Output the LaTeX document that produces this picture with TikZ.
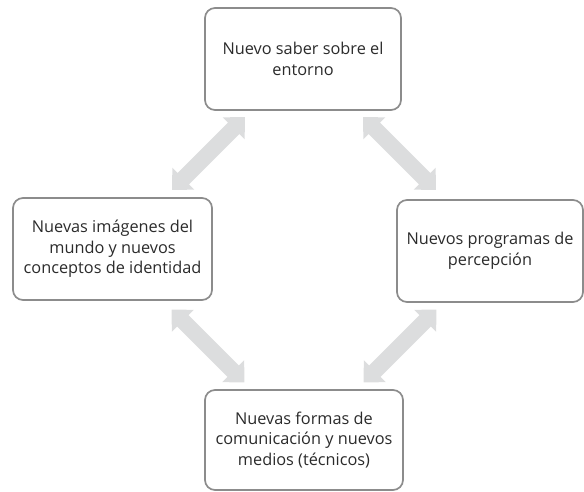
\documentclass[tikz,border=0pt]{standalone}
\usepackage{fontspec}
\setmainfont{Open Sans}
\definecolor{boxline}{HTML}{8C8C8C}
\definecolor{txt}{HTML}{2B2B2B}
\definecolor{arrowgrey}{HTML}{DCDDDE}
\tikzset{
  box/.style={draw=boxline, line width=1.7pt, rounded corners=10pt, fill=white,
    align=center, text=txt, font=\fontsize{16.3}{20.5}\selectfont, inner sep=0pt},
  pics/dblarrow/.style={code={
    \fill[arrowgrey] (-51.6,0) -- (-35.6,15.5) -- (-35.6,8) -- (35.6,8) -- (35.6,15.5)
      -- (51.6,0) -- (35.6,-15.5) -- (35.6,-8) -- (-35.6,-8) -- (-35.6,-15.5) -- cycle;
  }}
}
\begin{document}
\begin{tikzpicture}[x=1pt,y=-1pt]
\useasboundingbox (0,0) rectangle (584,492);
\node[box, minimum width=196pt, minimum height=102pt] (top) at (303,59) {Nuevo saber sobre el\\entorno};
\node[box, minimum width=186pt, minimum height=102pt] (right) at (490,251) {Nuevos programas de\\percepción};
\node[box, minimum width=199pt, minimum height=102pt] (left) at (112.5,249) {Nuevas imágenes del\\mundo y nuevos\\conceptos de identidad};
\node[box, minimum width=198pt, minimum height=100pt] (bottom) at (304,440) {Nuevas formas de\\comunicación y nuevos\\medios (técnicos)};
\coordinate (tl1) at (245,117); \coordinate (tl2) at (172,190);
\coordinate (tr1) at (363,117); \coordinate (tr2) at (436,190);
\coordinate (bl1) at (171,309); \coordinate (bl2) at (245,383);
\coordinate (br1) at (437,309); \coordinate (br2) at (363,383);
\path (tl1) -- pic[pos=0.5, sloped]{dblarrow} (tl2);
\path (tr1) -- pic[pos=0.5, sloped]{dblarrow} (tr2);
\path (bl1) -- pic[pos=0.5, sloped]{dblarrow} (bl2);
\path (br1) -- pic[pos=0.5, sloped]{dblarrow} (br2);
\end{tikzpicture}
\end{document}
